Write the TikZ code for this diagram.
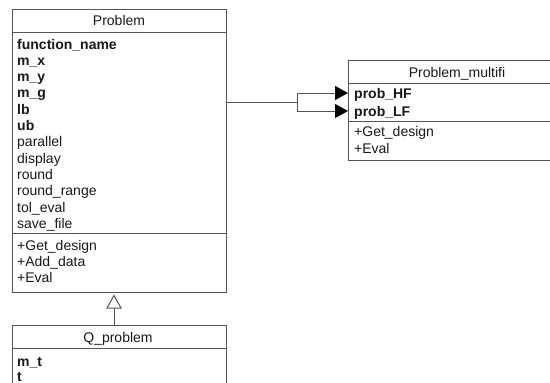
\documentclass[tikz,border=0pt]{standalone}
\usepackage{fontspec}
\setmainfont{Liberation Sans}
\usetikzlibrary{arrows.meta}
\definecolor{linec}{RGB}{85,85,85}
\definecolor{txtc}{RGB}{25,25,25}
\begin{document}
\begin{tikzpicture}[x=1pt,y=-1pt,
  box/.style={draw=linec, line width=1pt, anchor=north west, inner sep=0pt, outer sep=0pt},
  ttl/.style={text=txtc, font=\fontsize{14}{16}\selectfont, inner sep=0pt, text height=10pt, text depth=0pt},
  attr/.style={ttl, anchor=west},
  battr/.style={attr, font=\fontsize{14}{16}\selectfont\bfseries},
  sepline/.style={draw=linec, line width=1pt},
  assoc/.style={draw=linec, line width=1pt, -{Triangle[length=13pt,width=14pt,fill=black,color=black]}},
  inhtri/.style={draw=linec, line width=1pt, fill=white, line join=miter}]
\useasboundingbox (0,0) rectangle (550,383);
\clip (0,0) rectangle (550,383);
\fill[white] (0,0) rectangle (550,383);

% Problem
\node[box, minimum width=214pt, minimum height=283pt] (P) at (12,9) {};
\draw[sepline] (12,32) -- (226,32);
\draw[sepline] (12,233) -- (226,233);
\node[ttl] (Pt) at (119,20) {Problem};
\node[battr] (p1) at (17,44) {function\_name};
\node[battr] (p2) at (17,60.3) {m\_x};
\node[battr] (p3) at (17,76.6) {m\_y};
\node[battr] (p4) at (17,92.9) {m\_g};
\node[battr] (p5) at (17,109.2) {lb};
\node[battr] (p6) at (17,125.5) {ub};
\node[attr] (p7) at (17,141.8) {parallel};
\node[attr] (p8) at (17,158.1) {display};
\node[attr] (p9) at (17,174.4) {round};
\node[attr] (p10) at (17,190.7) {round\_range};
\node[attr] (p11) at (17,207) {tol\_eval};
\node[attr] (p12) at (17,223.3) {save\_file};
\node[attr] (pm1) at (17,245) {+Get\_design};
\node[attr] (pm2) at (17,261.3) {+Add\_data};
\node[attr] (pm3) at (17,277.6) {+Eval};

% Problem_multifi
\node[box, minimum width=218pt, minimum height=100pt] (M) at (348,60) {};
\draw[sepline] (348,83) -- (566,83);
\draw[sepline] (348,121) -- (566,121);
\node[ttl] (Mt) at (457,72) {Problem\_multifi};
\node[battr] (HF) at (354,93) {prob\_HF};
\node[battr] (LF) at (354,111) {prob\_LF};
\node[attr] (mm1) at (354,131.5) {+Get\_design};
\node[attr] (mm2) at (354,148) {+Eval};

% Q_problem
\node[box, minimum width=214pt, minimum height=90pt] (Q) at (12,325) {};
\draw[sepline] (12,348) -- (226,348);
\node[ttl] (Qt) at (118,337) {Q\_problem};
\node[battr] (q1) at (17,361) {m\_t};
\node[battr] (q2) at (17,376) {t};

% connectors
\coordinate (split) at (297,102);
\draw[sepline] (split -| P.east) -- (split);
\draw[assoc] (split) |- (HF -| M.west);
\draw[assoc] (split) |- (LF -| M.west);
\coordinate (ih) at (114,295.5);
\coordinate (ihb) at (114,308);
\draw[sepline] (ihb |- Q.north) -- (ihb);
\draw[inhtri] (ih) -- ++(7,12.5) -- ++(-14,0) -- cycle;
\end{tikzpicture}
\end{document}
